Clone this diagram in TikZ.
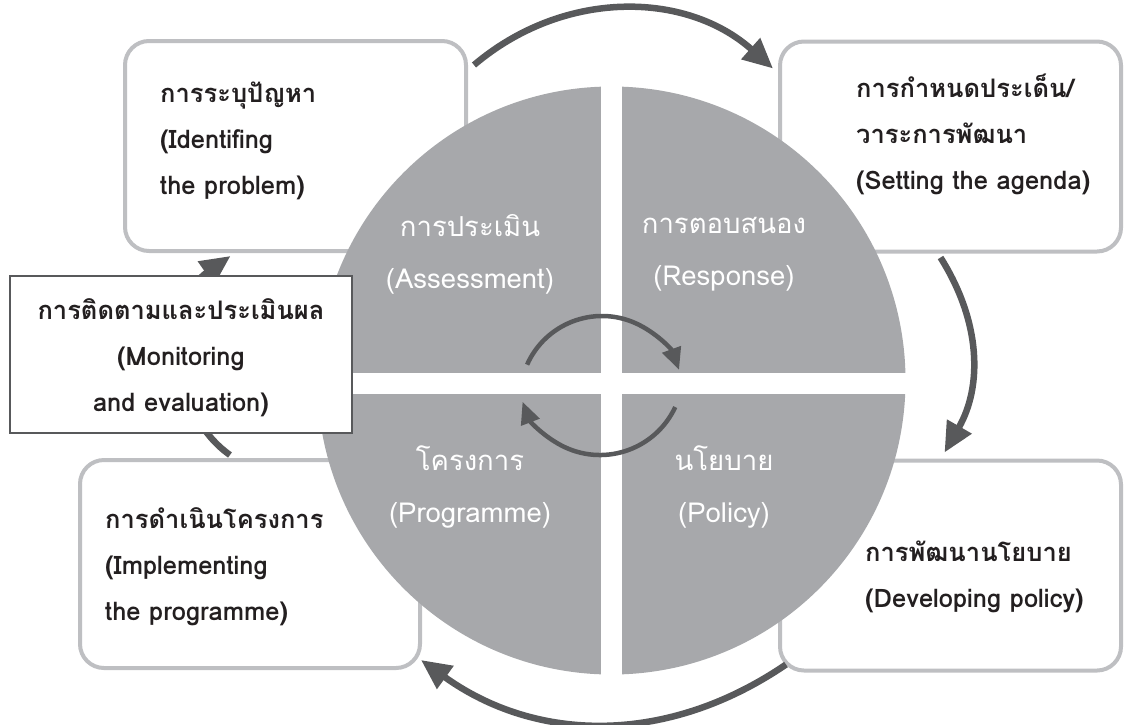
\documentclass[tikz,border=0pt]{standalone}
\usepackage{fontspec}
\setmainfont[Script=Thai]{Loma}
\usetikzlibrary{arrows.meta}
\definecolor{discgray}{HTML}{A7A8AB}
\definecolor{framegray}{HTML}{BEBFC2}
\definecolor{arrowgray}{HTML}{58595B}
\definecolor{inkgray}{HTML}{231F20}

\begin{document}
\begin{tikzpicture}[x=1pt,y=-1pt,
  stagebox/.style={draw=framegray, line width=4pt, rounded corners=24pt, fill=white,
    minimum width=341pt, minimum height=210pt, inner sep=0pt},
  stagetext/.style={text=inkgray, align=left, anchor=west, inner sep=0pt,
    font=\fontsize{25.5}{46}\bfseries\selectfont},
  disctext/.style={text=white, align=center, inner sep=0pt,
    font=\fontsize{27.5}{52}\selectfont},
  bigarrow/.style={draw=arrowgray, line width=6.5pt, -{Triangle[length=30pt,width=27pt]}},
  smallarrow/.style={draw=arrowgray, line width=4.5pt, -{Triangle[length=22pt,width=19pt]}}]
\useasboundingbox (0,0) rectangle (1126,724);

% the four stages
\node[stagebox] (prob) at (295.5,146) {};
\node[stagebox] (agenda) at (950.5,146.5) {};
\node[stagebox] (devpol) at (950.5,565.5) {};
\node[stagebox, minimum width=340pt, minimum height=208pt] (impl) at (250,564) {};

% disc with the cross
\coordinate (c) at (611.5,380.5);
\fill[discgray] (c) circle (294pt);
\fill[white] (601,80) rectangle (622,680);
\fill[white] (312,373) rectangle (912,394);

\node[disctext] (assess) at (470,254) {การประเมิน\\(Assessment)};
\node[disctext] (resp) at (724,254) {การตอบสนอง\\(Response)};
\node[disctext] (prog) at (470,487) {โครงการ\\(Programme)};
\node[disctext] (pol) at (724,487) {นโยบาย\\(Policy)};

% inner cycle
\coordinate (cyctop) at (602,398);
\coordinate (cycbot) at (600,372);
\draw[smallarrow] ([shift={(156:82pt)}]cyctop) arc[start angle=156, end angle=20, radius=82pt];
\draw[smallarrow] ([shift={(-25:83pt)}]cycbot) arc[start angle=-25, end angle=-159, radius=83pt];

% outer cycle
\draw[bigarrow] ([shift={(6pt,-26pt)}]prob.north east) to[bend left=41] ([shift={(-5pt,-29pt)}]agenda.north west);
\draw[bigarrow] ([shift={(-10pt,-4pt)}]agenda.south) to[bend left=31] ([shift={(-6pt,6pt)}]devpol.north);
\draw[bigarrow] ([shift={(8pt,8pt)}]devpol.south west) to[bend left=35] ([shift={(-1pt,10pt)}]impl.south east);
\draw[bigarrow] ([shift={(-20pt,3pt)}]impl.north) to[bend left=55] ([shift={(-65pt,-3pt)}]prob.south);

\node[draw=arrowgray, line width=2.5pt, fill=white, minimum width=342pt, minimum height=157pt,
  inner sep=0pt] (monitor) at (181,354.5) {};

% texts
\node[stagetext] (probtext) at (160,141) {การระบุปัญหา\\(Identifing\\the problem)};
\node[stagetext] (agendatext) at (856,134) {การกำหนดประเด็น/\\วาระการพัฒนา\\(Setting the agenda)};
\node[stagetext] (devpoltext) at (865,577) {การพัฒนานโยบาย\\(Developing policy)};
\node[stagetext] (impltext) at (105,567) {การดำเนินโครงการ\\(Implementing\\the programme)};
\node[stagetext, anchor=center, align=center] (montext) at (181,358)
  {การติดตามและประเมินผล\\(Monitoring\\and evaluation)};
\end{tikzpicture}
\end{document}
